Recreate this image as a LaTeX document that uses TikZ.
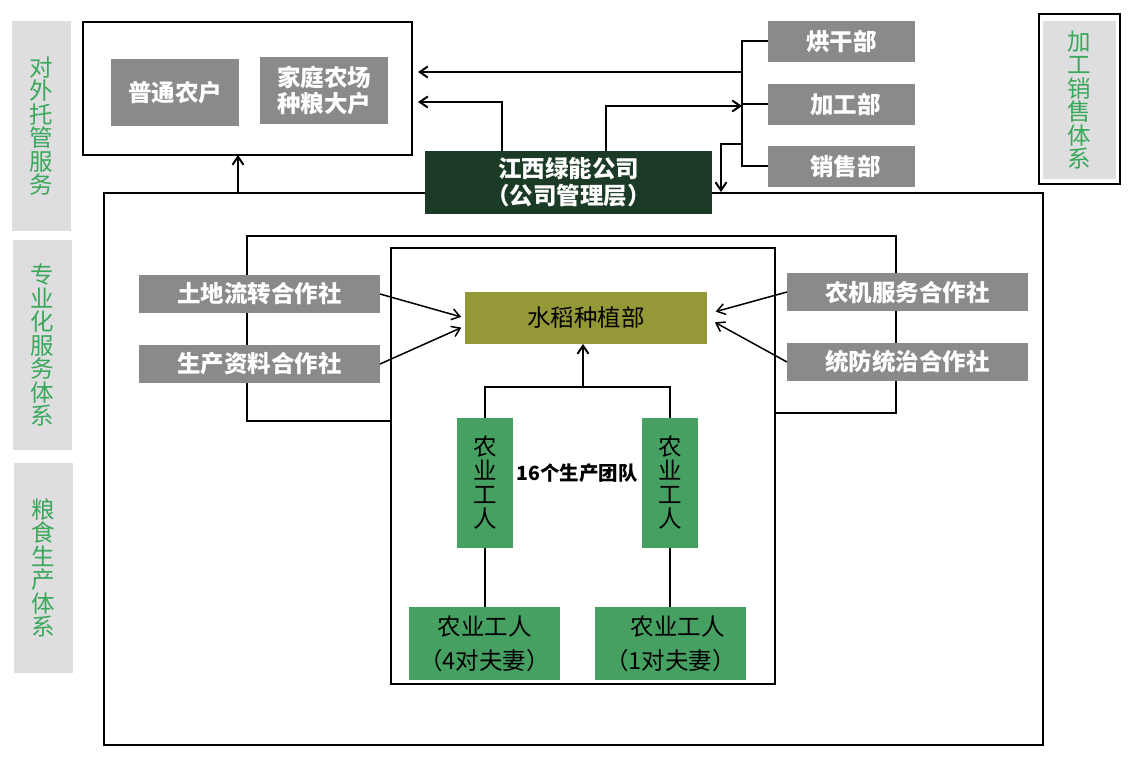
\documentclass[tikz,border=0pt]{standalone}
\usepackage{fontspec}
\setmainfont{Noto Sans CJK SC}
\usetikzlibrary{arrows.meta}
\definecolor{boxgray}{HTML}{898A8C}
\definecolor{panelgray}{HTML}{DEDDDF}
\definecolor{sidegreen}{HTML}{3AA85A}
\definecolor{mgmtgreen}{HTML}{1B3B26}
\definecolor{riceolive}{HTML}{959836}
\definecolor{workgreen}{HTML}{46A062}
\begin{document}
\begin{tikzpicture}[x=1pt,y=-1pt,>={Straight Barb[length=8pt,width=11pt]}]
\useasboundingbox (0,0) rectangle (1134,770);
\tikzstyle{every node}=[inner sep=0pt,outer sep=0pt];
\tikzstyle{frame}=[draw,line width=2.2pt];
\tikzstyle{line}=[line width=2pt];
\tikzstyle{side}=[fill=panelgray,text=sidegreen,minimum width=59pt,minimum height=210pt,align=center,font=\fontsize{23.5pt}{23.5pt}\selectfont];
\tikzstyle{grey}=[fill=boxgray,text=white,align=center,font=\fontsize{23.5pt}{26pt}\selectfont\bfseries];
\tikzstyle{worker}=[fill=workgreen,text=black,align=center,font=\fontsize{23.5pt}{24pt}\selectfont];
% side panels
\node[side] (ext) at (41.5,126) {对\\外\\托\\管\\服\\务};
\node[side] (svc) at (42.5,345) {专\\业\\化\\服\\务\\体\\系};
\node[side] (grain) at (43.5,568) {粮\\食\\生\\产\\体\\系};
\node[frame,minimum width=81pt,minimum height=170pt] (salesys) at (1079.5,99) {};
\node[side,minimum width=73pt,minimum height=158pt] (salepnl) at (1079.5,100) {加\\工\\销\\售\\体\\系};
% frames
\node[frame,minimum width=329pt,minimum height=133pt] (client) at (247.5,88.5) {};
\node[frame,minimum width=939pt,minimum height=552pt] (base) at (573.5,469) {};
\node[frame,minimum width=384pt,minimum height=436pt] (field) at (583,466) {};
\coordinate (l0) at (247,236);
\coordinate (l1) at (247,421);
\coordinate (r0) at (896,236);
\coordinate (r1) at (896,413);
\draw[line] (field.west |- l1) -| (l0) -- (r0) |- (field.east |- r1);
% boxes
\node[grey,minimum width=128pt,minimum height=67pt] (farm) at (175,92.5) {普通农户};
\node[grey,minimum width=128pt,minimum height=67pt] (bigfarm) at (324,90.5) {家庭农场\\种粮大户};
\node[fill=mgmtgreen,text=white,align=center,minimum width=287pt,minimum height=63pt,font=\fontsize{23.5pt}{27pt}\selectfont\bfseries] (mgmt) at (568.5,182.5) {江西绿能公司\\（公司管理层）};
\node[grey,minimum width=147pt,minimum height=41pt] (dry) at (841.5,41.5) {烘干部};
\node[grey,minimum width=147pt,minimum height=41pt] (proc) at (841.5,104.5) {\hspace{8pt}加工部};
\node[grey,minimum width=147pt,minimum height=41pt] (sale) at (841.5,166.5) {\hspace{8pt}销售部};
\node[grey,minimum width=241pt,minimum height=38pt] (land) at (259.5,294) {土地流转合作社};
\node[grey,minimum width=241pt,minimum height=38pt] (supply) at (259.5,364) {生产资料合作社};
\node[grey,minimum width=241pt,minimum height=38pt] (mach) at (907.5,292) {农机服务合作社};
\node[grey,minimum width=241pt,minimum height=38pt] (pest) at (907.5,362) {统防统治合作社};
\node[fill=riceolive,text=black,minimum width=242pt,minimum height=52pt,font=\fontsize{23.5pt}{26pt}\selectfont] (rice) at (586,318) {水稻种植部};
\node[worker,minimum width=56pt,minimum height=130pt] (team1) at (485,483) {农\\业\\工\\人};
\node[worker,minimum width=56pt,minimum height=130pt] (team2) at (670,483) {农\\业\\工\\人};
\node[font=\fontsize{19.5pt}{21pt}\selectfont\bfseries] (teams) at (577,473) {16个生产团队};
\node[worker,minimum width=151pt,minimum height=73pt,font=\fontsize{23.5pt}{34pt}\selectfont] (crew1) at (484.5,643.5) {农业工人\\（4对夫妻）};
\node[worker,minimum width=151pt,minimum height=73pt,font=\fontsize{23.5pt}{34pt}\selectfont] (crew2) at (670.5,643.5) {\hspace{14pt}农业工人\\（1对夫妻）};
% connectors
\coordinate (bus) at (742,0);
\coordinate (j1) at (742,72);
\coordinate (j2) at (742,106);
\coordinate (j3) at (743,144);
\coordinate (t0) at (238,193);
\coordinate (t1) at (418,72);
\coordinate (t2) at (418,102);
\coordinate (t4) at (721,192);
\coordinate (fork) at (583,387);
\draw[line] (dry.west) -| (sale.west -| bus) -- (sale.west);
\draw[line] (proc.west) -- (proc.west -| bus);
\draw[line,->] (j1) -- (t1);
\draw[line,->] ([xshift=-66.5pt]mgmt.north) |- (t2);
\draw[line,->] ([xshift=37.5pt]mgmt.north) |- (j2);
\draw[line,->] (j3) -| (t4);
\draw[line,->] (t0) -- (t0 |- client.south);
\draw[line width=1.5pt,->,shorten >=4pt] (land.east) -- (rice.west);
\draw[line width=1.5pt,->,shorten >=4pt] (supply.east) -- ([yshift=-8pt]rice.west);
\draw[line width=1.5pt,->,shorten >=9pt] (mach.west) -- ([yshift=4pt]rice.east);
\draw[line width=1.5pt,->,shorten >=9pt] (pest.west) -- (rice.east);
\draw[line] (team1.north) |- (fork) -| (team2.north);
\draw[line,->] (fork) -- (fork |- rice.south);
\draw[line] (team1.south) -- (team1.south |- crew1.north);
\draw[line] (team2.south) -- (team2.south |- crew2.north);
\end{tikzpicture}
\end{document}
